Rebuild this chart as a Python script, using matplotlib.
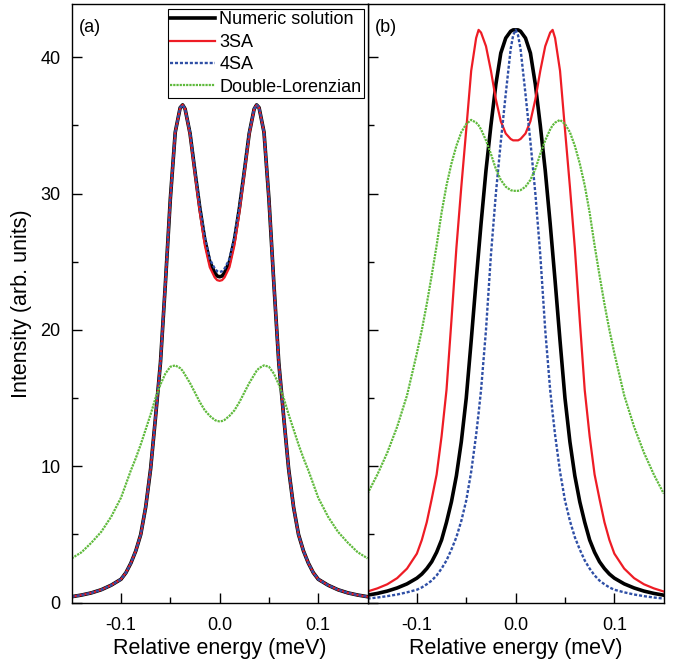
"""Two-panel intensity spectra: numeric solution vs. 3SA / 4SA / double-Lorentzian.

Output: out.png (674x662 px).
"""

import matplotlib

matplotlib.use("Agg")
import matplotlib.pyplot as plt
import numpy as np
from matplotlib.ticker import FixedLocator, FuncFormatter

plt.rcParams.update(
    {
        "font.family": ["Liberation Sans", "DejaVu Sans"],
        "font.size": 13,
        "axes.unicode_minus": False,
        "axes.linewidth": 1.0,
    }
)

# Relative energy grid (meV), shared by all curves
energy = [
    -0.15, -0.14, -0.13, -0.12, -0.11, -0.10, -0.095, -0.09, -0.085, -0.08,
    -0.075, -0.07, -0.065, -0.06, -0.055, -0.05, -0.045, -0.04, -0.0375, -0.035,
    -0.03, -0.025, -0.02, -0.015, -0.01, -0.005, -0.0025, 0.0,
    0.0025, 0.005, 0.01, 0.015, 0.02, 0.025, 0.03, 0.035, 0.0375, 0.04,
    0.045, 0.05, 0.055, 0.06, 0.065, 0.07, 0.075, 0.08, 0.085, 0.09,
    0.095, 0.10, 0.11, 0.12, 0.13, 0.14, 0.15,
]

# ---- panel (a) ----
a_numeric = [
    0.44, 0.56, 0.72, 0.95, 1.28, 1.72, 2.2, 2.9, 3.8, 5.0,
    7.0, 9.8, 13.6, 17.6, 23.4, 29.6, 34.5, 36.3, 36.5, 36.2,
    34.4, 31.6, 28.9, 26.6, 25.0, 24.2, 23.95, 23.9,
    23.95, 24.2, 25.0, 26.6, 28.9, 31.6, 34.4, 36.2, 36.5, 36.3,
    34.5, 29.6, 23.4, 17.6, 13.6, 9.8, 7.0, 5.0, 3.8, 2.9,
    2.2, 1.72, 1.28, 0.95, 0.72, 0.56, 0.44,
]
a_3sa = [
    0.44, 0.56, 0.72, 0.95, 1.28, 1.72, 2.2, 2.9, 3.8, 5.0,
    7.0, 9.8, 13.6, 17.6, 23.4, 29.6, 34.5, 36.3, 36.5, 36.2,
    34.3, 31.4, 28.6, 26.2, 24.6, 23.85, 23.65, 23.6,
    23.65, 23.85, 24.6, 26.2, 28.6, 31.4, 34.3, 36.2, 36.5, 36.3,
    34.5, 29.6, 23.4, 17.6, 13.6, 9.8, 7.0, 5.0, 3.8, 2.9,
    2.2, 1.72, 1.28, 0.95, 0.72, 0.56, 0.44,
]
a_4sa = [
    0.44, 0.56, 0.72, 0.95, 1.28, 1.72, 2.2, 2.9, 3.8, 5.0,
    7.0, 9.8, 13.6, 17.6, 23.4, 29.6, 34.5, 36.3, 36.5, 36.2,
    34.5, 31.7, 29.0, 26.8, 25.2, 24.5, 24.3, 24.25,
    24.3, 24.5, 25.2, 26.8, 29.0, 31.7, 34.5, 36.2, 36.5, 36.3,
    34.5, 29.6, 23.4, 17.6, 13.6, 9.8, 7.0, 5.0, 3.8, 2.9,
    2.2, 1.72, 1.28, 0.95, 0.72, 0.56, 0.44,
]
a_lorentz = [
    3.25, 3.7, 4.4, 5.2, 6.3, 7.7, 8.7, 9.7, 10.6, 11.6,
    12.7, 13.8, 15.0, 16.0, 16.8, 17.3, 17.4, 17.2, 17.0, 16.7,
    16.1, 15.4, 14.7, 14.1, 13.7, 13.4, 13.32, 13.3,
    13.32, 13.4, 13.7, 14.1, 14.7, 15.4, 16.1, 16.7, 17.0, 17.2,
    17.4, 17.3, 16.8, 16.0, 15.0, 13.8, 12.7, 11.6, 10.6, 9.7,
    8.7, 7.7, 6.3, 5.2, 4.4, 3.7, 3.25,
]

# ---- panel (b) ----
b_numeric = [
    0.55, 0.68, 0.85, 1.08, 1.38, 1.8, 2.1, 2.5, 3.0, 3.7,
    4.6, 5.9, 7.4, 9.3, 11.8, 15.0, 19.2, 23.6, 25.7, 27.8,
    31.7, 35.0, 38.0, 40.3, 41.4, 41.9, 42.0, 42.0,
    42.0, 41.9, 41.4, 40.3, 38.0, 35.0, 31.7, 27.8, 25.7, 23.6,
    19.2, 15.0, 11.8, 9.3, 7.4, 5.9, 4.6, 3.7, 3.0, 2.5,
    2.1, 1.8, 1.38, 1.08, 0.85, 0.68, 0.55,
]
b_3sa = [
    0.82, 1.05, 1.35, 1.8, 2.5, 3.6, 4.6, 5.9, 7.6, 9.4,
    12.2, 15.6, 20.7, 26.0, 30.5, 34.7, 39.0, 41.4, 42.0, 41.8,
    40.8, 39.0, 36.9, 35.3, 34.4, 34.0, 33.9, 33.9,
    33.9, 34.0, 34.4, 35.3, 36.9, 39.0, 40.8, 41.8, 42.0, 41.4,
    39.0, 34.7, 30.5, 26.0, 20.7, 15.6, 12.2, 9.4, 7.6, 5.9,
    4.6, 3.6, 2.5, 1.8, 1.35, 1.05, 0.82,
]
b_4sa = [
    0.3, 0.38, 0.48, 0.6, 0.76, 0.95, 1.12, 1.35, 1.62, 2.0,
    2.5, 3.1, 3.9, 4.8, 6.0, 7.5, 9.6, 12.3, 13.9, 15.6,
    20.0, 25.5, 30.0, 33.8, 37.3, 40.6, 41.6, 42.0,
    41.6, 40.6, 37.3, 33.8, 30.0, 25.5, 20.0, 15.6, 13.9, 12.3,
    9.6, 7.5, 6.0, 4.8, 3.9, 3.1, 2.5, 2.0, 1.62, 1.35,
    1.12, 0.95, 0.76, 0.6, 0.48, 0.38, 0.3,
]
b_lorentz = [
    8.0, 9.4, 11.0, 12.9, 15.2, 18.3, 20.0, 21.9, 24.0, 26.2,
    28.6, 30.6, 32.2, 33.5, 34.5, 35.1, 35.4, 35.2, 35.0, 34.7,
    33.9, 32.9, 31.8, 31.0, 30.5, 30.25, 30.2, 30.2,
    30.2, 30.25, 30.5, 31.0, 31.8, 32.9, 33.9, 34.7, 35.0, 35.2,
    35.4, 35.1, 34.5, 33.5, 32.2, 30.6, 28.6, 26.2, 24.0, 21.9,
    20.0, 18.3, 15.2, 12.9, 11.0, 9.4, 8.0,
]

labels = ["Numeric solution", "3SA", "4SA", "Double-Lorenzian"]
panels = [
    ("(a)", [a_numeric, a_3sa, a_4sa, a_lorentz]),
    ("(b)", [b_numeric, b_3sa, b_4sa, b_lorentz]),
]

# line styles: black thick, red solid, blue short dash, green fine dots
styles = [
    dict(color="black", lw=2.6, ls="-"),
    dict(color="#ee1c25", lw=1.6, ls="-"),
    dict(color="#2f4fa6", lw=1.7, ls=(0, (1.3, 0.8))),
    dict(color="#5fba3c", lw=1.6, ls=(0, (1.0, 0.45))),
]

fig = plt.figure(figsize=(6.74, 6.62), dpi=100)
left, right, mid = 0.1064, 0.9847, 0.5453
bottom, top = 0.0896, 0.994
ax_b = fig.add_axes([mid, bottom, right - mid, top - bottom])
ax_a = fig.add_axes([left, bottom, mid - left, top - bottom], sharey=ax_b)

x = np.array(energy)
for ax, (tag, curves) in zip([ax_a, ax_b], panels):
    for y, st, lab in zip(curves, styles, labels):
        ax.plot(x, y, label=lab, solid_joinstyle="round",
                dash_joinstyle="round", **st)
    ax.set_xlim(-0.15, 0.15)
    ax.set_ylim(0, 43.9)
    ax.xaxis.set_major_locator(FixedLocator([-0.1, 0.0, 0.1]))
    ax.xaxis.set_minor_locator(FixedLocator([-0.05, 0.05]))
    ax.xaxis.set_major_formatter(FuncFormatter(lambda v, _: f"{v:.1f}"))
    ax.yaxis.set_major_locator(FixedLocator([0, 10, 20, 30, 40]))
    ax.yaxis.set_minor_locator(FixedLocator([5, 15, 25, 35]))
    ax.tick_params(which="both", direction="in", top=False, right=False,
                   width=1.0, labelsize=13)
    ax.tick_params(which="major", length=7)
    ax.tick_params(which="minor", length=4.2)
    ax.tick_params(axis="x", pad=10.2)
    ax.tick_params(axis="y", pad=8)
    ax.set_xlabel("Relative energy (meV)", fontsize=15.5, labelpad=2.8)
    ax.text(0.025, 0.975, tag, transform=ax.transAxes, ha="left", va="top",
            fontsize=13)

ax_b.tick_params(axis="y", labelleft=False)
ax_a.set_ylabel("Intensity (arb. units)", fontsize=15.5, labelpad=6)

leg = ax_a.legend(
    loc="upper left",
    bbox_to_anchor=(0.3245, 0.992),
    borderaxespad=0,
    frameon=True,
    fancybox=False,
    edgecolor="black",
    framealpha=1,
    fontsize=13,
    handlelength=2.45,
    handletextpad=0.25,
    labelspacing=0.3,
    borderpad=0.15,
)
leg.get_frame().set_linewidth(0.8)

fig.savefig("out.png", dpi=100)
